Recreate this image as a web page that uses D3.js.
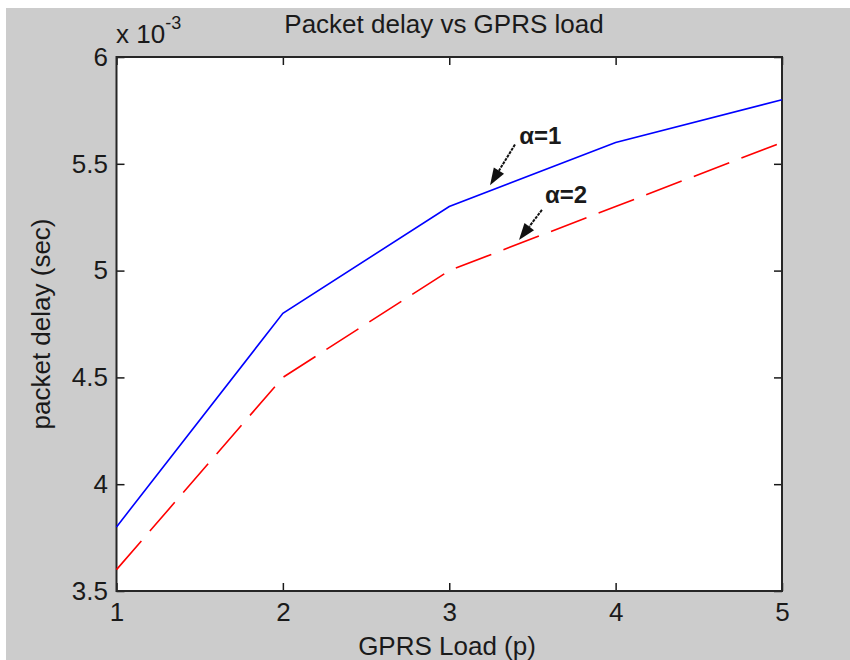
<!DOCTYPE html>
<html>
<head>
<meta charset="utf-8">
<script src="https://cdn.jsdelivr.net/npm/d3@7"></script>
<style>
  body { margin: 0; background: #fff; }
  text { font-family: "Liberation Sans", Arial, sans-serif; fill: #1a1a1a; }
</style>
</head>
<body>
<div id="chart"></div>
<script>
// data (delay in units of 1e-3 sec)
var loads = [1, 2, 3, 4, 5];
var delayAlpha1 = [3.8, 4.8, 5.3, 5.6, 5.8];
var delayAlpha2 = [3.6, 4.5, 5.0, 5.3, 5.6];
var yTicks = [3.5, 4, 4.5, 5, 5.5, 6];
var xTicks = [1, 2, 3, 4, 5];

// annotation labels, in data units: text position, arrow tail, arrow tip
var annLabels = ["\u03B1=1", "\u03B1=2"];
var annText = [[3.42, 5.595], [3.575, 5.316]];
var annTail = [[3.395, 5.59], [3.557, 5.284]];
var annTip = [[3.245, 5.40], [3.419, 5.143]];

// set the dimensions and margins of the graph
var W = 850, H = 660;
var margin = {top: 57, right: 68, bottom: 69, left: 116.5},
width = W - margin.left - margin.right,
height = H - margin.top - margin.bottom;

var root = d3.select("#chart")
.append("svg")
.attr("width", W)
.attr("height", H);

// grey figure background
root.append("rect")
.attr("x", 6).attr("y", 8)
.attr("width", W - 6).attr("height", H - 8)
.attr("fill", "#cccccc");

var svg = root.append("g")
.attr("transform", "translate(" + margin.left + "," + margin.top + ")");

svg.append("rect")
.attr("width", width).attr("height", height)
.attr("fill", "#fff");

var x = d3.scaleLinear().domain([1, 5]).range([0, width]);
var y = d3.scaleLinear().domain([3.5, 6]).range([height, 0]);

var fmt = function(d) { return String(d); };

// axes, ticks pointing inward
var gx = svg.append("g")
.attr("transform", "translate(0," + height + ")")
.call(d3.axisBottom(x).tickValues(xTicks).tickFormat(fmt).tickSizeInner(-8).tickSizeOuter(0).tickPadding(12));

var gy = svg.append("g")
.call(d3.axisLeft(y).tickValues(yTicks).tickFormat(fmt).tickSizeInner(-8).tickSizeOuter(0).tickPadding(8.5));

var gt = svg.append("g")
.call(d3.axisTop(x).tickValues(xTicks).tickFormat("").tickSizeInner(-8).tickSizeOuter(0));

var gr = svg.append("g")
.attr("transform", "translate(" + width + ",0)")
.call(d3.axisRight(y).tickValues(yTicks).tickFormat("").tickSizeInner(-8).tickSizeOuter(0));

[gx, gy, gt, gr].forEach(function(g) {
  g.select(".domain").remove();
  g.selectAll(".tick line").attr("stroke", "#1a1a1a").attr("stroke-width", 1.5);
  g.selectAll(".tick text").style("font-size", "26px").attr("fill", "#1a1a1a");
});

svg.append("rect")
.attr("width", width).attr("height", height)
.attr("fill", "none")
.attr("stroke", "#262626")
.attr("stroke-width", 2);

// lines
var line = d3.line()
.x(function(d) { return x(d[0]); })
.y(function(d) { return y(d[1]); });

svg.append("path")
.datum(d3.zip(loads, delayAlpha1))
.attr("d", line)
.attr("fill", "none")
.attr("stroke", "#0000ff")
.attr("stroke-width", 1.6);

svg.append("path")
.datum(d3.zip(loads, delayAlpha2))
.attr("d", line)
.attr("fill", "none")
.attr("stroke", "#ff0000")
.attr("stroke-width", 1.6)
.attr("stroke-dasharray", "38,13");

// arrows + labels
annLabels.forEach(function(lbl, i) {
  var x0 = x(annTail[i][0]), y0 = y(annTail[i][1]);
  var x1 = x(annTip[i][0]), y1 = y(annTip[i][1]);
  var ang = Math.atan2(y1 - y0, x1 - x0);
  var hl = 17, hw = 6;
  var bx = x1 - hl * Math.cos(ang), by = y1 - hl * Math.sin(ang);
  svg.append("line")
  .attr("x1", x0).attr("y1", y0).attr("x2", bx).attr("y2", by)
  .attr("stroke", "#111").attr("stroke-width", 2)
  .attr("stroke-dasharray", "3,1");
  svg.append("path")
  .attr("d", "M" + x1 + "," + y1 +
    "L" + (bx + hw * Math.sin(ang)) + "," + (by - hw * Math.cos(ang)) +
    "L" + (bx - hw * Math.sin(ang)) + "," + (by + hw * Math.cos(ang)) + "Z")
  .attr("fill", "#111");
  svg.append("text")
  .attr("x", x(annText[i][0])).attr("y", y(annText[i][1]))
  .style("font-size", "24px").style("font-weight", "bold")
  .text(lbl);
});

// title, axis labels, exponent
root.append("text")
.attr("x", 444).attr("y", 33)
.attr("text-anchor", "middle")
.style("font-size", "26px")
.text("Packet delay vs GPRS load");

root.append("text")
.attr("x", 447).attr("y", 655)
.attr("text-anchor", "middle")
.style("font-size", "26px")
.text("GPRS Load (p)");

root.append("text")
.attr("transform", "translate(50," + (margin.top + height / 2) + ") rotate(-90)")
.attr("text-anchor", "middle")
.style("font-size", "26px")
.text("packet delay (sec)");

var ex = root.append("text")
.attr("x", 116).attr("y", 43)
.style("font-size", "26px");
ex.append("tspan").text("x 10");
ex.append("tspan").attr("dy", -14).style("font-size", "18px").text("-3");
</script>
</body>
</html>
